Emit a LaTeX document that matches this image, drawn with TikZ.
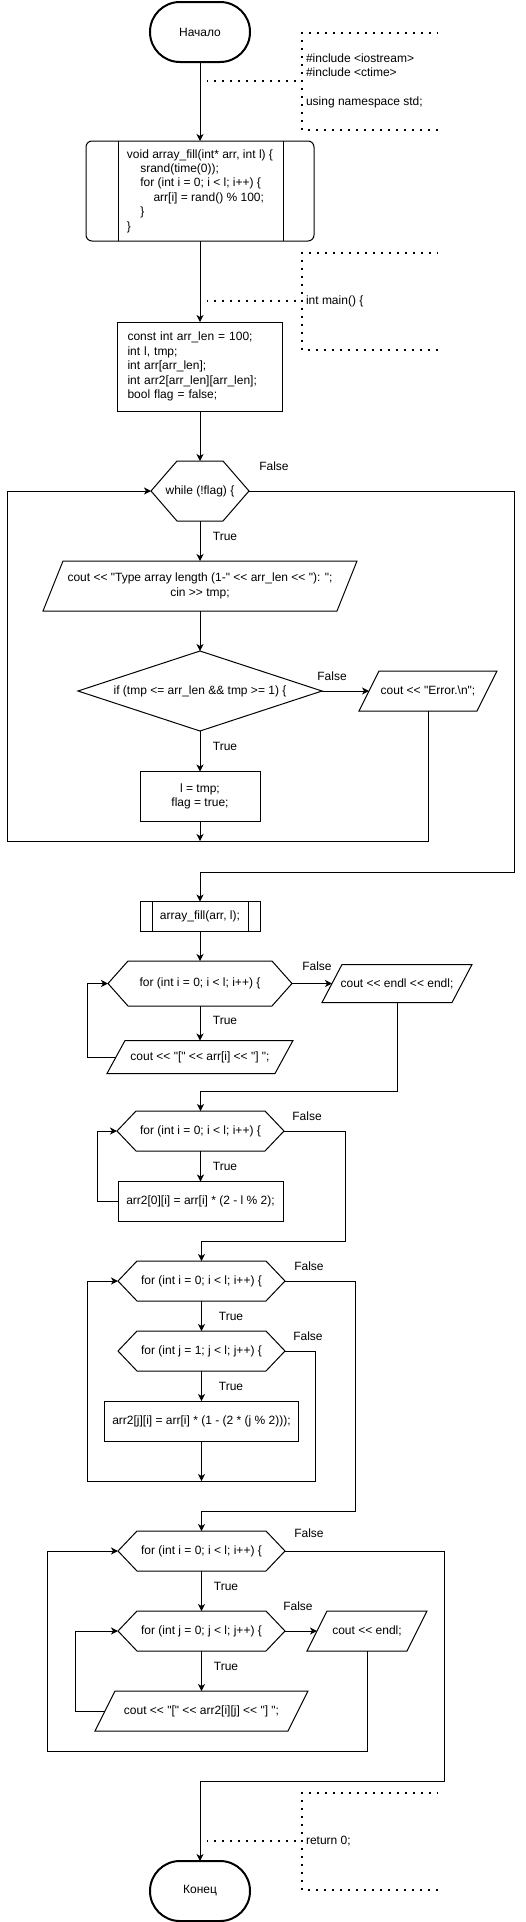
\documentclass[tikz,border=0pt]{standalone}
\usepackage{fontspec}
\setmainfont{Liberation Sans}[Ligatures=TeXOff]
\usetikzlibrary{arrows.meta}
\newcommand{\hexout}[2]{\draw[line width=1pt] (#1.west) -- ([xshift=#2]#1.north west) -- ([xshift=-#2]#1.north east) -- (#1.east) -- ([xshift=-#2]#1.south east) -- ([xshift=#2]#1.south west) -- cycle;}
\newcommand{\parout}[2]{\draw[line width=1pt] (#1.south west) -- ([xshift=#2]#1.north west) -- (#1.north east) -- ([xshift=-#2]#1.south east) -- cycle;}
\newcommand{\ind}{\hspace*{13.3pt}}
\begin{document}
\begin{tikzpicture}[x=1pt,y=-1pt,
  every node/.style={font=\fontsize{12}{14.4}\selectfont, inner sep=0pt, outer sep=0pt, text=black},
  box/.style 2 args={draw, line width=1pt, minimum width=#1, minimum height=#2, align=center},
  shp/.style 2 args={minimum width=#1, minimum height=#2, align=center},
  term/.style={draw, line width=2pt, minimum width=100pt, minimum height=60pt, rounded corners=29.9pt},
  flow/.style={line width=1pt, -{Stealth[length=7pt,width=7pt,inset=2pt]}},
  conn/.style={line width=1pt},
  annline/.style={line width=2pt, dash pattern=on 2pt off 6pt, dash phase=1pt}]
\fill[white] (0,0) rectangle (526,1922);
\useasboundingbox (0,0) rectangle (526,1922);

% nodes
\node[term] (start) at (200,32) {Начало};
\node[box={228pt}{100pt}, rounded corners=6pt, align=left] (af) at (200,191) {void array\_fill(int* arr, int l) \{\\\ind srand(time(0));\\\ind for (int i = 0; i < l; i++) \{\\\ind\ind arr[i] = rand() \% 100;\\\ind \}\\\}};
\draw[conn] ([xshift=32pt]af.north west) -- ([xshift=32pt]af.south west);
\draw[conn] ([xshift=-31pt]af.north east) -- ([xshift=-31pt]af.south east);

\node[box={165pt}{89pt}, text width=145pt, inner xsep=10pt, align=left] (vars) at (200,366.5) {const int arr\_len = 100;\\int l, tmp;\\int arr[arr\_len];\\int arr2[arr\_len][arr\_len];\\bool flag = false;};

\node[shp={98pt}{60pt}] (while) at (200,491) {while (!flag) \{}; \hexout{while}{26pt}
\node[shp={314pt}{50pt}] (inp) at (200,586) {cout << "Type array length (1-" << arr\_len << "): ";\\cin >> tmp;}; \parout{inp}{20pt}
\node[shp={244pt}{80pt}] (cond) at (200,691) {if (tmp <= arr\_len \&\& tmp >= 1) \{};
\draw[conn] (cond.west) -- (cond.north) -- (cond.east) -- (cond.south) -- cycle;
\node[shp={138pt}{40pt}] (err) at (428,691) {cout << "Error.\textbackslash n";}; \parout{err}{20pt}
\node[box={120pt}{50pt}] (asg) at (200,796.5) {l = tmp;\\flag = true;};
\coordinate (j1) at (200,841);

\node[box={120pt}{30pt}] (call) at (200,916.5) {array\_fill(arr, l);};
\draw[conn] ([xshift=12pt]call.north west) -- ([xshift=12pt]call.south west);
\draw[conn] ([xshift=-12pt]call.north east) -- ([xshift=-12pt]call.south east);

\node[shp={184pt}{45pt}] (for1) at (200,983.5) {for (int i = 0; i < l; i++) \{}; \hexout{for1}{20pt}
\node[shp={150pt}{38pt}] (out1) at (397,983.5) {cout << endl << endl;}; \parout{out1}{20pt}
\node[shp={186pt}{33pt}] (prt1) at (200,1057) {cout << "[" << arr[i] << "] ";}; \parout{prt1}{18pt}

\node[shp={167pt}{40pt}] (for2) at (200.5,1131) {for (int i = 0; i < l; i++) \{}; \hexout{for2}{19pt}
\node[box={165pt}{40pt}] (b2) at (200.5,1201.5) {arr2[0][i] = arr[i] * (2 - l \% 2);};

\node[shp={167pt}{40pt}] (for3) at (201.5,1281) {for (int i = 0; i < l; i++) \{}; \hexout{for3}{19pt}
\node[shp={167pt}{40pt}] (for4) at (201.5,1351) {for (int j = 1; j < l; j++) \{}; \hexout{for4}{19pt}
\node[box={194pt}{40pt}] (b3) at (201.5,1421) {arr2[j][i] = arr[i] * (1 - (2 * (j \% 2)));};
\coordinate (j2) at (201.5,1481);

\node[shp={167pt}{40pt}] (for5) at (201.5,1551) {for (int i = 0; i < l; i++) \{}; \hexout{for5}{19pt}
\node[shp={167pt}{40pt}] (for6) at (201.5,1631) {for (int j = 0; j < l; j++) \{}; \hexout{for6}{19pt}
\node[shp={120pt}{40pt}] (out2) at (367,1631) {cout << endl;}; \parout{out2}{20pt}
\node[shp={213pt}{40pt}] (prt2) at (201.5,1711) {cout << "[" << arr2[i][j] << "] ";}; \parout{prt2}{20pt}

\node[term] (stop) at (200,1891) {Конец};

% labels
\node (f1) at (274,466) {False};
\node (t1) at (225,536) {True};
\node (f2) at (332,676) {False};
\node (t2) at (225,746) {True};
\node (f3) at (317,966) {False};
\node (t3) at (225,1020) {True};
\node (f4) at (307,1116) {False};
\node (t4) at (225,1166) {True};
\node (f5) at (309,1266) {False};
\node (t5) at (231,1316) {True};
\node (f6) at (308,1336) {False};
\node (t6) at (231,1386) {True};
\node (f7) at (309,1533) {False};
\node (t7) at (226,1586) {True};
\node (f8) at (298,1606) {False};
\node (t8) at (226,1666) {True};

% annotations
\draw[annline] (438,33) -- (302,33) -- (302,130) -- (438,130);
\node[anchor=west, align=left] (ann1) at (306,81) {\#include <iostream>\\\#include <ctime>\\[14.4pt]using namespace std;};
\coordinate (a1) at (207,81); \coordinate (b1) at (302,81);
\draw[annline] (a1) -- (b1);

\draw[annline] (438,253) -- (302,253) -- (302,350) -- (438,350);
\node[anchor=west, align=left] (ann2) at (306,301) {int main() \{};
\coordinate (a2) at (207,301); \coordinate (b2c) at (302,301);
\draw[annline] (a2) -- (b2c);

\draw[annline] (438,1793) -- (302,1793) -- (302,1890) -- (438,1890);
\node[anchor=west, align=left] (ann3) at (306,1841) {return 0;};
\coordinate (a3) at (207,1841); \coordinate (b3c) at (302,1841);
\draw[annline] (a3) -- (b3c);

% connectors
\draw[flow] (start.south) -- (af.north);
\draw[flow] (af.south) -- (vars.north);
\draw[flow] (vars.south) -- (while.north);
\draw[flow] (while.south) -- (inp.north);
\draw[flow] (inp.south) -- (cond.north);
\draw[flow] (cond.east) -- ([xshift=10pt]err.west);
\draw[flow] (cond.south) -- (asg.north);
\draw[flow] (asg.south) -- (j1);
\draw[flow] (err.south) |- (7,841) |- (while.west);
\draw[flow] (while.east) -| (514,872) -| (call.north);
\draw[flow] (call.south) -- (for1.north);
\draw[flow] (for1.east) -- ([xshift=10pt]out1.west);
\draw[flow] (for1.south) -- (prt1.north);
\draw[flow] ([xshift=9pt]prt1.west) -- (87,1057) |- (for1.west);
\draw[flow] (out1.south) |- (200.5,1091) -- (for2.north);
\draw[flow] (for2.south) -- (b2.north);
\draw[flow] (b2.west) -- (97,1201.5) |- (for2.west);
\draw[flow] (for2.east) -| (345,1241) -| (for3.north);
\draw[flow] (for3.south) -- (for4.north);
\draw[flow] (for4.south) -- (b3.north);
\draw[flow] (b3.south) -- (j2);
\draw[flow] (for4.east) -| (315,1481) -- (87,1481) |- (for3.west);
\draw[flow] (for3.east) -| (355,1511) -| (for5.north);
\draw[flow] (for5.south) -- (for6.north);
\draw[flow] (for6.east) -- ([xshift=10pt]out2.west);
\draw[flow] (for6.south) -- (prt2.north);
\draw[flow] ([xshift=10pt]prt2.west) -- (75,1711) |- (for6.west);
\draw[flow] (out2.south) |- (47,1751) |- (for5.west);
\draw[flow] (for5.east) -| (444,1781) -| (stop.north);
\end{tikzpicture}
\end{document}
